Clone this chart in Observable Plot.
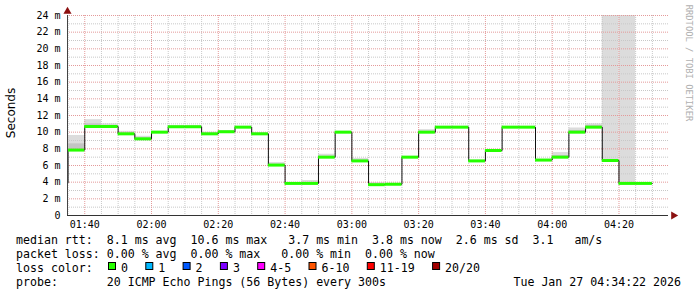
<!DOCTYPE html>
<html><head><meta charset="utf-8">
<script src="https://cdn.jsdelivr.net/npm/d3@7"></script>
<script src="https://cdn.jsdelivr.net/npm/@observablehq/plot@0.6"></script>
<style>html,body{margin:0;padding:0;background:#fff;} #chart{width:697px;height:297px;}</style>
</head><body><div id="chart"></div>
<script>
const day = "2026-01-27";
const stepStarts = ["01:30","01:35","01:40","01:45","01:50","01:55","02:00","02:05","02:10","02:15","02:20","02:25","02:30","02:35","02:40","02:45","02:50","02:55","03:00","03:05","03:10","03:15","03:20","03:25","03:30","03:35","03:40","03:45","03:50","03:55","04:00","04:05","04:10","04:15","04:20","04:25"];
const medianMs   = [3.9,7.85,10.68,10.68,9.8,9.2,10.0,10.65,10.65,9.8,10.05,10.6,9.8,6.05,3.85,3.85,7.0,10.0,6.55,3.7,3.75,7.0,10.0,10.6,10.6,6.55,7.8,10.6,10.6,6.65,7.0,10.0,10.6,6.6,3.85,3.85];
const smokeHighMs = [3.9,9.6,11.5,11.0,10.1,9.5,10.1,10.8,10.8,10.0,10.2,10.7,9.95,6.35,3.95,4.2,7.35,10.1,6.85,3.95,3.85,7.1,10.3,10.7,10.7,6.65,7.9,10.7,10.7,6.75,7.55,10.5,11.0,24,24,3.85];
const smokeInnerMs = [3.9,8.6,11.0,10.8,9.9,9.3,10.0,10.7,10.7,9.85,10.1,10.65,9.85,6.15,3.85,3.95,7.1,10.05,6.65,3.8,3.8,7.0,10.1,10.65,10.65,6.6,7.85,10.65,10.65,6.7,7.2,10.2,10.8,6.6,3.85,3.85];
const yTicks = [0,2,4,6,8,10,12,14,16,18,20,22,24];
const yTickLabels = ["0","2 m","4 m","6 m","8 m","10 m","12 m","14 m","16 m","18 m","20 m","22 m","24 m"];
const xTickLabels = ["01:40","02:00","02:20","02:40","03:00","03:20","03:40","04:00","04:20"];
const lossLabels = ["0","1","2","3","4-5","6-10","11-19","20/20"];
const lossColors = ["#26ff00","#00b8ff","#0059ff","#7e00ff","#ff00ff","#ff5500","#ff0000","#a10000"];
const statsLine = "median rtt:  8.1 ms avg  10.6 ms max   3.7 ms min  3.8 ms now  2.6 ms sd  3.1   am/s";
const lossLine  = "packet loss: 0.00 % avg  0.00 % max   0.00 % min  0.00 % now";
const probeLine = "probe:       20 ICMP Echo Pings (56 Bytes) every 300s";
const stampText = "Tue Jan 27 04:34:22 2026";

const parseT = s => new Date(`${day}T${s.length === 5 ? s + ":00" : s}Z`);
const xStart = parseT("01:34:50"), xEnd = parseT("04:34:50");
const steps = stepStarts.map((s, i) => {
  const t0 = parseT(s);
  return {x1: t0 < xStart ? xStart : t0, x2: new Date(+t0 + 300000), median: medianMs[i], hi: smokeHighMs[i], inner: smokeInnerMs[i]};
});
const linePts = [...steps.map(d => ({x: d.x1, y: d.median})), {x: steps[steps.length-1].x2, y: steps[steps.length-1].median}];
const xTicks = xTickLabels.map(parseT);
const minorX = d3.utcMinute.every(5).range(xStart, xEnd).filter(d => d.getUTCMinutes() % 20 !== 0);
const minorY = d3.range(1, 24, 2);
const majorY = yTicks.filter(v => v > 0);

const plot = Plot.plot({
  width: 697, height: 297,
  marginLeft: 67, marginRight: 29, marginTop: 15, marginBottom: 82,
  style: {fontFamily: "DejaVu Sans Mono", fontSize: "10px", background: "#fff", color: "#000"},
  x: {type: "utc", domain: [xStart, xEnd]},
  y: {domain: [0, 24]},
  marks: [
    Plot.rect(steps, {x1: "x1", x2: "x2", y1: "median", y2: "hi", fill: "#dcdcdc"}),
    Plot.rect(steps, {x1: "x1", x2: "x2", y1: "median", y2: "inner", fill: "#c4c4c4"}),
    Plot.ruleX(minorX, {stroke: "#c8c8c8", strokeDasharray: "1,1"}),
    Plot.ruleY(minorY, {stroke: "#c8c8c8", strokeDasharray: "1,1"}),
    Plot.ruleX(xTicks, {stroke: "#e49a9a", strokeDasharray: "1,1"}),
    Plot.ruleY(majorY, {stroke: "#e49a9a", strokeDasharray: "1,1"}),
    Plot.line(linePts, {x: "x", y: "y", curve: "step-after", stroke: "#111", strokeWidth: 1}),
    Plot.ruleY(steps, {x1: "x1", x2: "x2", y: "median", stroke: "#26ff00", strokeWidth: 3}),
    Plot.ruleY([0], {stroke: "#333"}),
    Plot.ruleX([xStart], {stroke: "#444", y1: 0, y2: 24}),
    Plot.dot([{x: xEnd, y: 0}], {x: "x", y: "y", symbol: "triangle", rotate: 90, r: 3, fill: "#8b1010", dx: 5}),
    Plot.dot([{x: xStart, y: 24}], {x: "x", y: "y", symbol: "triangle", r: 3, fill: "#8b1010", dy: -4}),
    Plot.axisX({ticks: xTicks, tickFormat: d => xTickLabels[xTicks.findIndex(t => +t === +d)], tickSize: 0, tickPadding: 5}),
    Plot.axisY({ticks: yTicks, tickFormat: d => yTickLabels[yTicks.indexOf(d)], tickSize: 0, tickPadding: 7})
  ]
});
document.getElementById("chart").appendChild(plot);

const svg = d3.select(plot);
svg.append("text").attr("transform", "translate(10.5,113) rotate(-90)")
  .attr("text-anchor", "middle").attr("dominant-baseline", "central")
  .style("font-family", "DejaVu Sans").style("font-size", "12px").attr("fill", "#000").text("Seconds");
svg.append("text").attr("transform", "translate(689,63) rotate(90)")
  .attr("text-anchor", "middle").attr("dominant-baseline", "central")
  .style("font-family", "DejaVu Sans Mono").style("font-size", "8.8px").attr("fill", "#b0b0b0").text("RRDTOOL / TOBI OETIKER");

const legendFont = "11.6px";
const addLine = (txt, x, y, anchor) => svg.append("text").attr("x", x).attr("y", y)
  .attr("text-anchor", anchor || "start").attr("xml:space", "preserve")
  .style("white-space", "pre").style("font-family", "DejaVu Sans Mono").style("font-size", legendFont)
  .attr("fill", "#000").text(txt);
addLine(statsLine, 16, 243.5);
addLine(lossLine, 16, 257.5);
addLine("loss color:", 16, 271.5);
addLine(probeLine, 16, 285.5);
addLine(stampText, 681, 285.5, "end");
let bx = 108;
lossLabels.forEach((lab, i) => {
  svg.append("rect").attr("x", bx + 0.5).attr("y", 262.5).attr("width", 7).attr("height", 7)
    .attr("fill", lossColors[i]).attr("stroke", "#000").attr("stroke-width", 1);
  addLine(lab, bx + 13, 271.5);
  bx += 30.3 + 7 * lab.length;
});
</script></body></html>
